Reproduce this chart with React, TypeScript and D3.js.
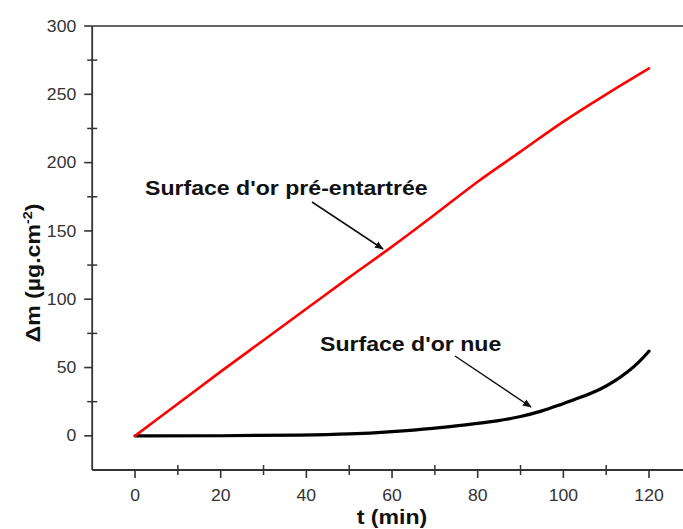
import React from "react";
import * as d3 from "d3";

const tRed = [0, 10, 20, 30, 40, 50, 60, 70, 80, 90, 100, 110, 120];
const mRed = [0, 23.5, 47, 70, 93, 116, 138.5, 162, 186, 208, 230, 250, 269];
const tBlack = [0, 20, 40, 50, 60, 70, 77, 85, 90, 95, 99, 104, 109, 112, 115, 118, 120];
const mBlack = [0, 0, 0.5, 1.2, 3, 5.5, 8, 11, 14, 18, 22.5, 28, 34.5, 40, 46.5, 55, 62];
const xTicks = [0, 20, 40, 60, 80, 100, 120];
const xMinor = [-10, 10, 30, 50, 70, 90, 110];
const yTicks = [0, 50, 100, 150, 200, 250, 300];
const yMinor = [-25, 25, 75, 125, 175, 225, 275];
const labelRed = "Surface d'or pré-entartrée";
const labelBlack = "Surface d'or nue";

const font = "'Liberation Sans', Arial, sans-serif";
const SX = 1.1;

function T(props: { x: number; y: number; anchor?: string; size: number; bold?: boolean; fill?: string; dy?: string; rotate?: number; children: React.ReactNode }) {
  const { x, y, anchor = "start", size, bold, fill = "#111", dy, rotate = 0, children } = props;
  const tr = rotate
    ? `translate(${x},${y}) rotate(${rotate}) scale(${SX},1)`
    : `translate(${x},${y}) scale(${SX},1)`;
  return (
    <text transform={tr} dy={dy} textAnchor={anchor} fontFamily={font} fontWeight={bold ? "bold" : "normal"} fontSize={size} fill={fill}>
      {children}
    </text>
  );
}

export default function App() {
  const W = 683, H = 529;
  const x = d3.scaleLinear().domain([-10, 128]).range([92.2, 683.3]);
  const y = d3.scaleLinear().domain([-25, 300]).range([470, 26]);
  const lineRed = d3.line<[number, number]>().x(d => x(d[0])).y(d => y(d[1])).curve(d3.curveMonotoneX);
  const lineBlack = d3.line<[number, number]>().x(d => x(d[0])).y(d => y(d[1])).curve(d3.curveBasis);
  const red = tRed.map((t, i) => [t, mRed[i]] as [number, number]);
  const black = tBlack.map((t, i) => [t, mBlack[i]] as [number, number]);
  const axisCol = "#333";
  return (
    <svg width={W} height={H} style={{ position: "absolute", left: 0, top: 0, background: "#fff" }}>
      <defs>
        <marker id="ah" viewBox="0 0 10 10" refX="9" refY="5" markerWidth="6" markerHeight="6" orient="auto">
          <path d="M0,1 L10,5 L0,9 Z" fill="#111" />
        </marker>
      </defs>
      <line x1={x(-10)} x2={W} y1={y(300)} y2={y(300)} stroke="#666" strokeWidth={2} />
      <line x1={x(-10)} x2={x(-10)} y1={y(300)} y2={y(-25)} stroke={axisCol} strokeWidth={1.8} />
      <line x1={x(-10)} x2={W} y1={y(-25)} y2={y(-25)} stroke={axisCol} strokeWidth={1.8} />
      {yTicks.map(v => (
        <g key={"y" + v}>
          <line x1={x(-10) - 8} x2={x(-10)} y1={y(v)} y2={y(v)} stroke={axisCol} strokeWidth={1.6} />
          <T x={x(-10) - 16} y={y(v)} dy="0.35em" anchor="end" size={16} fill="#333">{v}</T>
        </g>
      ))}
      {yMinor.filter(v => v > -25).map(v => (
        <line key={"ym" + v} x1={x(-10) - 5} x2={x(-10) + 5} y1={y(v)} y2={y(v)} stroke={axisCol} strokeWidth={1.5} />
      ))}
      {xTicks.map(v => (
        <g key={"x" + v}>
          <line x1={x(v)} x2={x(v)} y1={y(-25)} y2={y(-25) + 8} stroke={axisCol} strokeWidth={1.6} />
          <T x={x(v)} y={y(-25) + 25} dy="0.35em" anchor="middle" size={16} fill="#333">{v}</T>
        </g>
      ))}
      {xMinor.filter(v => v > -10).map(v => (
        <line key={"xm" + v} x1={x(v)} x2={x(v)} y1={y(-25) - 5} y2={y(-25) + 5} stroke={axisCol} strokeWidth={1.5} />
      ))}
      <path d={lineBlack(black) || ""} fill="none" stroke="#000" strokeWidth={3.2} strokeLinecap="round" />
      <path d={lineRed(red) || ""} fill="none" stroke="#ff0000" strokeWidth={2.6} strokeLinecap="round" />
      <T x={145} y={195} size={21} bold>{labelRed}</T>
      <line x1={312} y1={202} x2={383} y2={249} stroke="#111" strokeWidth={1.5} markerEnd="url(#ah)" />
      <T x={320} y={350.5} size={21} bold>{labelBlack}</T>
      <line x1={455} y1={356} x2={531} y2={407} stroke="#111" strokeWidth={1.5} markerEnd="url(#ah)" />
      <T x={392} y={524} anchor="middle" size={21} bold>t (min)</T>
      <T x={40} y={273} rotate={-90} anchor="middle" size={21} bold>
        Δm (µg.cm<tspan dy="-8" fontSize={13}>-2</tspan><tspan dy="8">)</tspan>
      </T>
    </svg>
  );
}
